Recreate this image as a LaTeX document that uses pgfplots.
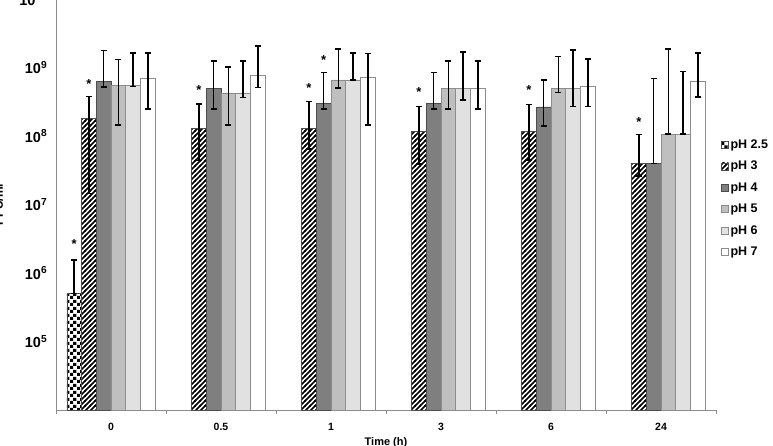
\documentclass[border=0pt]{standalone}
\usepackage{fontspec}
\setmainfont{Liberation Sans}
\usepackage{pgfplots}
\usepackage{pgfplotstable}
\pgfplotsset{compat=1.18}
\usetikzlibrary{patterns}

\pgfdeclarepatternformonly{mychecker}{\pgfqpoint{0pt}{0pt}}{\pgfqpoint{7pt}{7pt}}{\pgfqpoint{7pt}{7pt}}{%
  \pgfpathrectangle{\pgfqpoint{0pt}{0pt}}{\pgfqpoint{3.5pt}{3.5pt}}%
  \pgfpathrectangle{\pgfqpoint{3.5pt}{3.5pt}}{\pgfqpoint{3.5pt}{3.5pt}}%
  \pgfusepath{fill}}
\pgfdeclarepatternformonly{mystripes}{\pgfqpoint{-1pt}{-1pt}}{\pgfqpoint{6pt}{6pt}}{\pgfqpoint{5pt}{5pt}}{%
  \pgfsetlinewidth{1.7pt}%
  \pgfpathmoveto{\pgfqpoint{-1pt}{-1pt}}\pgfpathlineto{\pgfqpoint{6pt}{6pt}}%
  \pgfusepath{stroke}}

\definecolor{cfour}{HTML}{7F7F7F}
\definecolor{cfive}{HTML}{BFBFBF}
\definecolor{csix}{HTML}{E1E1E1}
\definecolor{axgray}{HTML}{8C8C8C}
\definecolor{edgegray}{HTML}{4D4D4D}

% x = time index (0:0, 1:0.5, 2:1, 3:3, 4:6, 5:24)
\pgfplotstableread{
x y ep em
0 5e5 1.05e6 0
}\tphtwofive
\pgfplotstableread{
x y ep em
0 1.8e8  1.96e8 1.655e8
1 1.3e8  1.66e8 8.6e7
2 1.3e8  1.9e8  6.5e7
3 1.17e8 1.53e8 7.8e7
4 1.17e8 1.7e8  7.2e7
5 3.96e7 6.54e7 1.36e7
}\tphthree
\pgfplotstableread{
x y ep em
0 6.3e8  1.13e9 1.1e8
1 4.98e8 7.42e8 2.52e8
2 2.97e8 5.43e8 4.7e7
3 2.97e8 5.43e8 4.7e7
4 2.65e8 3.95e8 1.25e8
5 3.96e7 6.5e8  0
}\tphfour
\pgfplotstableread{
x y ep em
0 5.5e8  7.5e8   4.06e8
1 4.25e8 5.95e8  2.81e8
2 6.6e8  1.22e9  1.63e8
3 4.9e8  7.5e8   2.4e8
4 4.9e8  9.5e8   6e7
5 1.06e8 1.774e9 0
}\tphfive
\pgfplotstableread{
x y ep em
0 5.5e8  1.08e9 2e7
1 4.25e8 8.25e8 5.8e7
2 6.6e8  9.7e8  0
3 4.9e8  1.19e9 1.54e8
4 4.9e8  1.31e9 2.2e8
5 1.06e8 7.64e8 0
}\tphsix
\pgfplotstableread{
x y ep em
0 6.9e8 9.4e8  4.4e8
1 7.7e8 1.31e9 2.6e8
2 7.2e8 8.8e8  5.76e8
3 4.9e8 7.5e8  2.4e8
4 5.3e8 8.1e8  2.6e8
5 6.3e8 1.0e9  2.6e8
}\tphseven

\begin{document}
\begin{tikzpicture}
\begin{axis}[
  at={(56pt,36pt)}, anchor=south west,
  scale only axis, width=660pt, height=411pt,
  ymode=log, log origin=infty,
  ymin=1e4, ymax=1e10,
  xmin=-0.5, xmax=5.5,
  axis x line*=bottom, axis y line*=left,
  axis line style={axgray, line width=0.8pt},
  ybar=0pt, bar width=0.1336,
  xtick={0,1,2,3,4,5},
  xticklabels={0,0.5,1,3,6,24},
  major x tick style={draw=none},
  minor xtick={-0.5,0.5,1.5,2.5,3.5,4.5,5.5},
  minor x tick style={axgray, line width=0.8pt},
  minor tick length=4pt,
  tick align=outside,
  ytick={1e5,1e6,1e7,1e8,1e9,1e10},
  yticklabels={10\textsuperscript{5},10\textsuperscript{6},10\textsuperscript{7},10\textsuperscript{8},10\textsuperscript{9},10\textsuperscript{10}},
  major y tick style={draw=none},
  yminorticks=false,
  x tick label style={font=\bfseries\fontsize{10.5}{12}\selectfont, yshift=-5pt},
  y tick label style={font=\bfseries\fontsize{14.5}{15}\selectfont, xshift=-1pt},
  error bars/y dir=both, error bars/y explicit,
  error bars/error bar style={black, line width=1.6pt},
  error bars/error mark options={black, line width=1.6pt, mark size=3pt, rotate=90},
  every axis plot/.append style={draw=edgegray, line width=0.6pt},
  legend style={draw=none, fill=none, font=\bfseries\fontsize{12.5}{13}\selectfont,
    at={(1.003,0.668)}, anchor=north west, row sep=7.3pt,
    legend cell align=left},
  legend image code/.code={\draw[#1, line width=0.4pt] (0pt,-3.5pt) rectangle (7pt,3.5pt);},
  clip=false,
]
\addplot[pattern=mychecker, draw=edgegray] table[x=x, y=y, y error plus=ep, y error minus=em] {\tphtwofive};
\addlegendentry{pH 2.5}
\addplot[pattern=mystripes, draw=edgegray] table[x=x, y=y, y error plus=ep, y error minus=em] {\tphthree};
\addlegendentry{pH 3}
\addplot[fill=cfour, draw=edgegray] table[x=x, y=y, y error plus=ep, y error minus=em] {\tphfour};
\addlegendentry{pH 4}
\addplot[fill=cfive, draw=axgray] table[x=x, y=y, y error plus=ep, y error minus=em] {\tphfive};
\addlegendentry{pH 5}
\addplot[fill=csix, draw=axgray] table[x=x, y=y, y error plus=ep, y error minus=em] {\tphsix};
\addlegendentry{pH 6}
\addplot[fill=white, draw=axgray] table[x=x, y=y, y error plus=ep, y error minus=em] {\tphseven};
\addlegendentry{pH 7}
% significance asterisks
\node[font=\bfseries\fontsize{13}{13}\selectfont] at (axis cs:-0.334,2.67e6) {*};
\node[font=\bfseries\fontsize{13}{13}\selectfont] at (axis cs:-0.2,5.75e8) {*};
\node[font=\bfseries\fontsize{13}{13}\selectfont] at (axis cs:0.8,4.7e8) {*};
\node[font=\bfseries\fontsize{13}{13}\selectfont] at (axis cs:1.8,5.0e8) {*};
\node[font=\bfseries\fontsize{13}{13}\selectfont] at (axis cs:1.933,1.28e9) {*};
\node[font=\bfseries\fontsize{13}{13}\selectfont] at (axis cs:2.8,4.4e8) {*};
\node[font=\bfseries\fontsize{13}{13}\selectfont] at (axis cs:3.8,4.7e8) {*};
\node[font=\bfseries\fontsize{13}{13}\selectfont] at (axis cs:4.8,1.6e8) {*};
\node[font=\bfseries\fontsize{11}{12}\selectfont, anchor=north] at ([yshift=-24pt]axis description cs:0.5,0) {Time (h)};
\node[font=\bfseries\fontsize{12}{12}\selectfont, rotate=90, anchor=base] at ([xshift=-53pt]axis description cs:0,0.5) {PFU/ml};
\end{axis}
\pgfresetboundingbox
\useasboundingbox (0pt,0pt) rectangle (773pt,446pt);
\end{tikzpicture}
\end{document}
